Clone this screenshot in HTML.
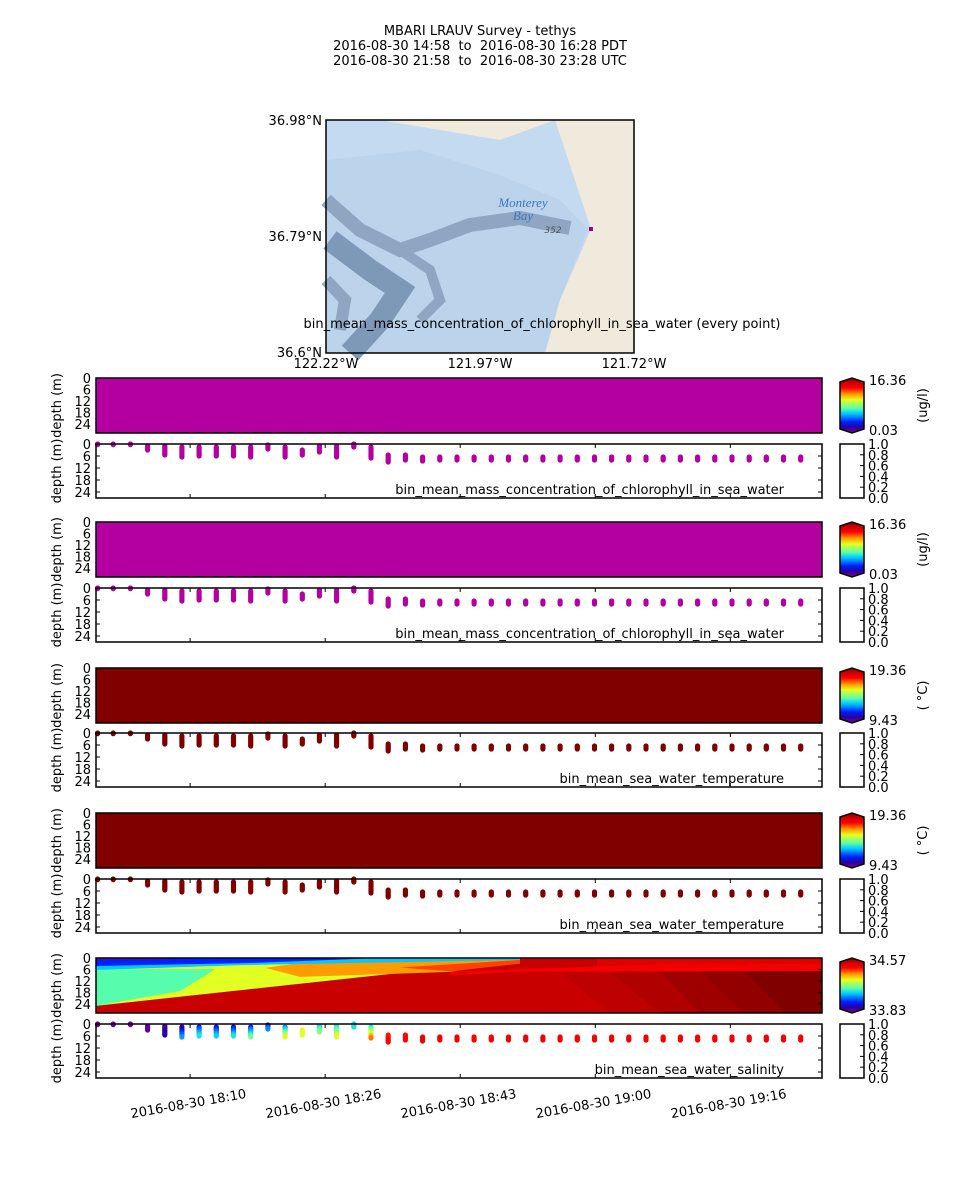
<!DOCTYPE html>
<html><head><meta charset="utf-8"><style>
html,body{margin:0;padding:0;background:#fff;}
svg{display:block;font-family:"DejaVu Sans","Liberation Sans",sans-serif;}
.pre{white-space:pre;}
</style></head><body>
<svg id="fig" width="960" height="1200" viewBox="0 0 960 1200" xmlns="http://www.w3.org/2000/svg">
<g font-size="13" text-anchor="middle" fill="#000">
<text x="480" y="35">MBARI LRAUV Survey - tethys</text>
<text class="pre" x="480" y="50">2016-08-30 14:58  to  2016-08-30 16:28 PDT</text>
<text class="pre" x="480" y="65">2016-08-30 21:58  to  2016-08-30 23:28 UTC</text>
</g>
<g>
<rect x="326" y="120" width="308" height="233" fill="#c4daf0"/>
<polygon points="326,160 420,150 500,175 560,200 588,229 560,300 545,353 326,353" fill="#bcd3ec"/>
<polygon points="380,120 555,120 500,140 440,130" fill="#efeadc"/>
<polygon points="555,120 634,120 634,353 545,353 560,300 591,229" fill="#efeadc"/>
<polyline points="326,200 360,230 400,250 430,240 470,225 520,218 570,228" fill="none" stroke="#8ea6c2" stroke-width="14"/>
<polyline points="330,240 370,270 400,290 380,320 350,353" fill="none" stroke="#7e98b8" stroke-width="22"/>
<polyline points="400,250 430,270 440,300 420,320" fill="none" stroke="#8ea6c2" stroke-width="10"/>
<polyline points="326,280 345,300 340,330" fill="none" stroke="#8ea6c2" stroke-width="12"/>
<text x="523" y="207" font-size="13" font-style="italic" fill="#3f78b8" text-anchor="middle" font-family="Liberation Serif,serif">Monterey</text>
<text x="523" y="220" font-size="13" font-style="italic" fill="#3f78b8" text-anchor="middle" font-family="Liberation Serif,serif">Bay</text>
<text x="553" y="233" font-size="9" font-style="italic" fill="#555" text-anchor="middle">352</text>
<rect x="589" y="227" width="4" height="4" fill="#9a0090"/>
<rect x="326" y="120" width="308" height="233" fill="none" stroke="#000" stroke-width="1.5"/>
<g font-size="13" fill="#000">
<text x="322" y="125" text-anchor="end">36.98°N</text>
<text x="322" y="241" text-anchor="end">36.79°N</text>
<text x="322" y="357" text-anchor="end">36.6°N</text>
<text x="326" y="368" text-anchor="middle">122.22°W</text>
<text x="480" y="368" text-anchor="middle">121.97°W</text>
<text x="634" y="368" text-anchor="middle">121.72°W</text>
</g>
<text x="542" y="328" font-size="13" text-anchor="middle">bin_mean_mass_concentration_of_chlorophyll_in_sea_water (every point)</text>
</g>
<g id="panels"></g>
</svg>
<script>
// sample times (minutes after 18:00) and depth ranges per profile column
const times=[-1.0,0.9,3.0,5.1,7.2,9.3,11.4,13.5,15.6,17.7,19.8,21.9,24.0,26.1,28.2,30.3,32.4,34.5,36.6,38.7,40.8,42.9,45.0,47.1,49.2,51.3,53.4,55.5,57.6,59.7,61.8,63.9,66.0,68.1,70.2,72.3,74.4,76.5,78.6,80.7,82.8,84.9];
const depthMin=[0,0,0,1,1,1.5,1.5,1.5,1.5,1.5,0.5,1.5,3,1,1,0,1.5,5.5,5.5,6.5,6.5,6.5,6.5,6.5,6.5,6.5,6.5,6.5,6.5,6.5,6.5,6.5,6.5,6.5,6.5,6.5,6.5,6.5,6.5,6.5,6.5,6.5];
const depthMax=[0.3,0.3,0.3,3,5.5,6.5,6,6,6,6.5,2.5,6.5,5.5,4,6.5,1.5,7,9,8,8.5,8,8,8,8,8,8,8,8,8,8,8,8,8,8,8,8,8,8,8,8,8,8];
const salTop=[33.85,33.85,33.85,33.86,33.87,33.90,33.98,33.95,33.95,33.98,33.96,34.05,34.27,34.09,34.11,34.10,34.12,34.42,34.43,34.44,34.44,34.44,34.44,34.44,34.44,34.44,34.44,34.44,34.44,34.44,34.44,34.44,34.44,34.44,34.44,34.44,34.44,34.44,34.44,34.44,34.44,34.44];
const salBot=[33.85,33.85,33.85,33.86,33.92,34.06,34.12,34.10,34.12,34.18,34.05,34.28,34.27,34.20,34.28,34.12,34.37,34.44,34.44,34.45,34.45,34.45,34.45,34.45,34.45,34.45,34.45,34.45,34.45,34.45,34.45,34.45,34.45,34.45,34.45,34.45,34.45,34.45,34.45,34.45,34.45,34.45];
const tickTimes=[10.3,26.8,43.3,59.8,76.3];
const tickLabels=["2016-08-30 18:10","2016-08-30 18:26","2016-08-30 18:43","2016-08-30 19:00","2016-08-30 19:16"];
const depthTicks=[0,6,12,18,24];
const cbTicks=["0.0","0.2","0.4","0.6","0.8","1.0"];
const varNames=["bin_mean_mass_concentration_of_chlorophyll_in_sea_water","bin_mean_mass_concentration_of_chlorophyll_in_sea_water","bin_mean_sea_water_temperature","bin_mean_sea_water_temperature","bin_mean_sea_water_salinity"];
const cbMax=["16.36","16.36","19.36","19.36","34.57"];
const cbMin=["0.03","0.03","9.43","9.43","33.83"];
const units=["(ug/l)","(ug/l)","( °C)","( °C)",""];
const salRange=[33.83,34.57];
// salinity contour regions: salinity value, vertex times, vertex depths
const regionSal=[34.51,34.52,34.53,34.545,34.555,34.57,34.45,34.48,34.27,34.35,34.40,34.16,34.09,33.98,33.85];
const regionT=[
[-1.2,87.5,87.5,-1.2],
[55.5,61.6,87.5,87.5,61.6],
[61.6,67.7,87.5,87.5,67.7],
[67.7,72.6,87.5,87.5,72.6],
[72.6,78,87.5,87.5,78],
[78,87.5,87.5,83],
[42.1,87.5,87.5,50.6,42.1],
[60,87.5,87.5,60],
[-1.2,50.6,50.6,-1.2],
[19.5,23.7,50.6,42.1,23.7],
[36,50.6,50.6,42.1],
[-1.2,13.4,9.1,-1.2],
[-1.2,50.6,50.6,29.9,16.4,-1.2],
[-1.2,33.5,17.6,-1.2],
[-1.2,7.9,7.9,-1.2]];
const regionD=[
[0,0,28.8,28.8],
[7.3,7.3,6.3,28.8,28.8],
[7.3,7.3,6.3,28.8,28.8],
[7.3,7.3,6.3,28.8,28.8],
[7,7,6.3,28.8,28.8],
[7,6.8,28.8,28.8],
[7.3,0,6.8,7.3,8.9],
[0,0,3,4],
[0,0,1,25.1],
[5.2,2.6,1,7.3,9.9],
[5,1,3,7],
[5.8,5.8,17.3,25.1],
[0,0,1,2.6,3.7,6.3],
[0,0,2.6,4.2],
[0,0,0.8,1]];

const X0=96,X1=822,TMIN=-1.2,TMAX=87.5,DMAX=27;
const tx=t=>X0+(t-TMIN)/(TMAX-TMIN)*(X1-X0);
const stops=[[0,[138,0,150]],[0.1,[40,0,160]],[0.2,[0,30,255]],[0.35,[0,200,255]],[0.45,[90,255,170]],[0.6,[230,255,30]],[0.7,[255,160,0]],[0.82,[255,0,0]],[0.92,[200,0,0]],[1,[128,0,0]]];
function cmap(v){v=Math.max(0,Math.min(1,v));for(let i=1;i<stops.length;i++){if(v<=stops[i][0]){const a=stops[i-1],b=stops[i];const f=(v-a[0])/(b[0]-a[0]);const c=a[1].map((x,k)=>Math.round(x+(b[1][k]-x)*f));return `rgb(${c})`;}}return 'rgb(128,0,0)';}
const salN=s=>(s-salRange[0])/(salRange[1]-salRange[0]);
const NS="http://www.w3.org/2000/svg";
const root=document.getElementById('panels');
function el(tag,attrs,parent,txt){const e=document.createElementNS(NS,tag);for(const k in attrs)e.setAttribute(k,attrs[k]);if(txt!==undefined)e.textContent=txt;(parent||root).appendChild(e);return e;}
const cTops=[378,522,668,813,958],sTops=[444,588,733,879,1024],H=55;
const solid=['#b400a0','#b400a0','#800000','#800000',null];
const dotCol=['#b400a0','#b400a0','#800000','#800000',null];
for(let p=0;p<5;p++){
 const ct=cTops[p],st=sTops[p];
 const cg=el('g',{});
 
 
 const cy=d=>ct+d/28.8*H;
 if(solid[p]){el('rect',{x:X0,y:ct,width:X1-X0,height:H,fill:solid[p]},cg);}
 else{
  el('defs',{},cg).innerHTML='<clipPath id="cc"><rect x="96" y="'+ct+'" width="726" height="55"/></clipPath>';
  const rg=el('g',{'clip-path':'url(#cc)'},cg);
  for(let r=0;r<regionSal.length;r++){
   const pts=regionT[r].map((t,k)=>tx(t).toFixed(1)+','+cy(regionD[r][k]).toFixed(1)).join(' ');
   const pg=el('polygon',{points:pts,fill:cmap(salN(regionSal[r]))},rg);
   
   
  }
 }
 el('rect',{x:X0,y:ct,width:X1-X0,height:H,fill:'none',stroke:'#000','stroke-width':1.5},cg);
 const sg=el('g',{});
 
 
 const sy=d=>st+d/DMAX*54;
 for(let i=0;i<times.length;i++){
  const x=tx(times[i]);
  const n=Math.max(1,Math.round((depthMax[i]-depthMin[i])/0.6));
  for(let k=0;k<=n;k++){
   const f=k/n,d=depthMin[i]+(depthMax[i]-depthMin[i])*f;
   const col=dotCol[p]||cmap(salN(salTop[i]+(salBot[i]-salTop[i])*f));
   const c=el('circle',{cx:x.toFixed(1),cy:sy(d).toFixed(1),r:2.6,fill:col},sg);
   
   
  }
 }
 el('rect',{x:X0,y:st,width:X1-X0,height:54,fill:'none',stroke:'#000','stroke-width':1.5},sg);
 for(const t of tickTimes){const x=tx(t);el('line',{x1:x,x2:x,y1:st,y2:st+4,stroke:'#000'},sg);el('line',{x1:x,x2:x,y1:st+54,y2:st+50,stroke:'#000'},sg);}
 const lab=el('text',{x:784,y:st+50,'font-size':13,'text-anchor':'end'},sg,varNames[p]);
 
 
 for(const d of depthTicks){
  el('text',{x:91,y:ct+d/28.8*H+5,'font-size':13,'text-anchor':'end'},cg,String(d));
  el('text',{x:91,y:sy(d)+5,'font-size':13,'text-anchor':'end'},sg,String(d));
  el('line',{x1:X0,x2:X0+4,y1:sy(d),y2:sy(d),stroke:'#000'},sg);
  el('line',{x1:X1,x2:X1-4,y1:sy(d),y2:sy(d),stroke:'#000'},sg);
  if(!solid[p]){el('line',{x1:X1,x2:X1-4,y1:ct+d/28.8*H,y2:ct+d/28.8*H,stroke:'#000'},cg);}
 }
 const yl1=el('text',{x:0,y:0,'font-size':13,'text-anchor':'middle',transform:`translate(61,${ct+H/2}) rotate(-90)`},cg,'depth (m)');
 
 
 const yl2=el('text',{x:0,y:0,'font-size':13,'text-anchor':'middle',transform:`translate(61,${st+27}) rotate(-90)`},sg,'depth (m)');
 
 
 const cb=el('g',{});
 
 
 const gid='g'+p;
 const gd=el('linearGradient',{id:gid,x1:0,y1:1,x2:0,y2:0},el('defs',{},cb));
 for(const s of stops){el('stop',{offset:s[0],'stop-color':`rgb(${s[1]})`},gd);}
 el('polygon',{points:`840,${ct+4} 852,${ct} 864,${ct+4} 864,${ct+H-4} 852,${ct+H} 840,${ct+H-4}`,fill:`url(#${gid})`,stroke:'#000','stroke-width':1.5},cb);
 el('text',{x:869,y:ct+7,'font-size':13},cb,cbMax[p]);
 el('text',{x:869,y:ct+H+2,'font-size':13},cb,cbMin[p]);
 if(units[p]){el('text',{x:0,y:0,'font-size':13,'text-anchor':'middle',transform:`translate(927,${ct+H/2}) rotate(-90)`},cb,units[p]);}
 const eb=el('g',{});
 
 
 el('rect',{x:840,y:st,width:24,height:54,fill:'none',stroke:'#000','stroke-width':1.5},eb);
 cbTicks.forEach((t,k)=>{const y=st+54-k*54/5;el('line',{x1:864,x2:860,y1:y,y2:y,stroke:'#000'},eb);el('text',{x:868,y:y+5,'font-size':13},eb,t);});
}
const xa=el('g',{});


tickTimes.forEach((t,k)=>{el('text',{x:0,y:0,'font-size':13,'text-anchor':'middle',transform:`translate(${tx(t)-1},${1108}) rotate(-10)`},xa,tickLabels[k]);});
</script>
</body></html>
